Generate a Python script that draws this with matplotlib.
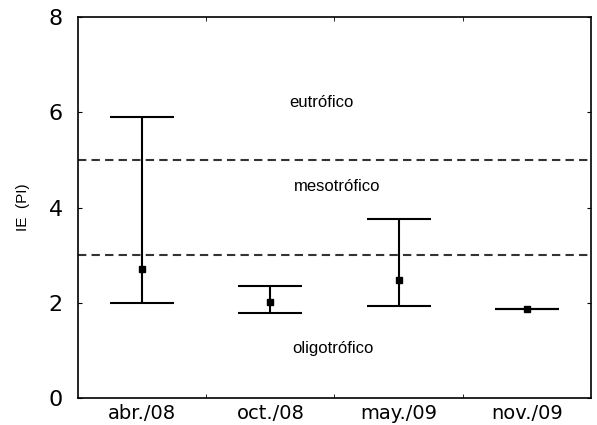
import numpy as np
import matplotlib
matplotlib.use("Agg")
import matplotlib.pyplot as plt
from matplotlib.ticker import FixedLocator

plt.rcParams.update({
    "font.family": "sans-serif",
    "font.sans-serif": ["Liberation Sans", "DejaVu Sans"],
    "axes.linewidth": 1.2,
    "xtick.direction": "in",
    "ytick.direction": "in",
})

# --- data ---
campaigns = ["abr./08", "oct./08", "may./09", "nov./09"]
ie_mean = [2.70, 2.02, 2.47, 1.87]
ie_low = [2.00, 1.78, 1.93, 1.87]
ie_high = [5.90, 2.35, 3.75, 1.87]
limits = [3.0, 5.0]
zones = ["eutrófico", "mesotrófico", "oligotrófico"]
zone_x = [1.40, 1.52, 1.49]
zone_y = [6.2, 4.45, 1.05]

# -------------------------------------------------------------------------------------------------
fig = plt.figure(figsize=(5.97, 4.25), dpi=100)
ax = fig.add_axes([0.1307, 0.0635, 0.859, 0.8965])

x = np.arange(len(campaigns))
mean = np.array(ie_mean)
yerr = [mean - np.array(ie_low), np.array(ie_high) - mean]

# limits between trophic states
for lim in limits:
    ax.axhline(lim, color="#333333", ls=(0, (4, 2.5)), lw=1.5, zorder=1)

ax.errorbar(x, mean, yerr=yerr, fmt="s", color="black", ms=4.5,
            elinewidth=1.5, capsize=23, capthick=1.5, zorder=3)

for name, zx, zy in zip(zones, zone_x, zone_y):
    ax.text(zx, zy, name, ha="center", va="center", fontsize=12)

ax.set_xlim(-0.5, 3.5)
ax.set_ylim(0, 8)
ax.set_xticks(x)
ax.set_xticklabels(campaigns, fontsize=14, family="DejaVu Sans")
ax.tick_params(axis="x", which="major", length=0, pad=4)
ax.xaxis.set_minor_locator(FixedLocator([0.5, 1.5, 2.5]))
ax.tick_params(axis="x", which="minor", length=3, top=True, bottom=True)
ax.set_yticks([0, 2, 4, 6, 8])
ax.set_yticklabels(["0", "2", "4", "6", "8"], fontsize=16, family="DejaVu Sans")
ax.tick_params(axis="y", length=3, left=True, right=True, pad=11)

ax.set_ylabel("IE  (PI)", fontsize=11, labelpad=13)

plt.savefig("out.png", dpi=100)
